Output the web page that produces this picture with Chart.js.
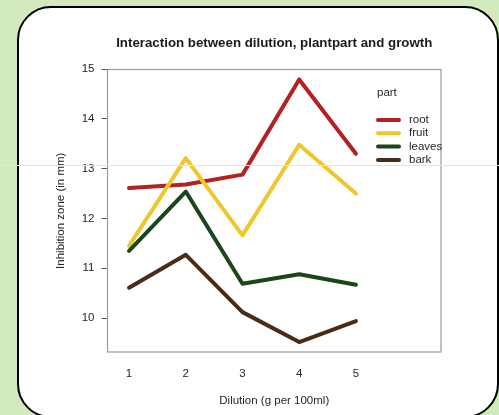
<!DOCTYPE html>
<html>
<head>
<meta charset="utf-8">
<script src="https://cdn.jsdelivr.net/npm/chart.js@4/dist/chart.umd.min.js"></script>
<style>
  html, body { margin: 0; padding: 0; }
  body { width: 499px; height: 415px; background: #d3eabf; position: relative; overflow: hidden; }
  #card { position: absolute; left: 17px; top: 6px; width: 478px; height: 408px;
          background: #fff; border: 2px solid #000; border-radius: 34px; }
  #wrap { position: absolute; left: 0; top: 0; width: 499px; height: 415px; }
  #streak { position: absolute; left: 0; top: 165px; width: 499px; height: 1px; background: #d9efc9; }
</style>
</head>
<body>
<div id="card"></div>
<div id="wrap"><canvas id="chart" width="499" height="415"></canvas></div>
<div id="streak"></div>
<script>
/* Interaction plot: inhibition zone by dilution, one line per plant part */
const DILUTION = [1, 2, 3, 4, 5];
const PARTS    = ['root', 'fruit', 'leaves', 'bark'];
const ROOT     = [12.61, 12.68, 12.88, 14.79, 13.30];
const FRUIT    = [11.45, 13.21, 11.66, 13.48, 12.50];
const LEAVES   = [11.35, 12.54, 10.69, 10.88, 10.67];
const BARK     = [10.61, 11.27, 10.12, 9.52, 9.94];
const Y_TICKS  = [10, 11, 12, 13, 14, 15];
const X_TICKS  = [1, 2, 3, 4, 5];
const TITLE    = 'Interaction between dilution, plantpart and growth';

const COLORS = ['#b22222', '#efc62b', '#1b451b', '#4a2b16'];
const TEXT   = '#262626';
const FONT   = "'Liberation Sans', Arial, sans-serif";

const series = [ROOT, FRUIT, LEAVES, BARK];

// R draws the last level on top, so reverse Chart.js' stacking
const datasets = series.map((vals, i) => ({
  label: PARTS[i],
  data: vals.map((v, j) => ({ x: DILUTION[j], y: v })),
  borderColor: COLORS[i],
  borderWidth: 4,
  borderCapStyle: 'round',
  borderJoinStyle: 'round',
  pointRadius: 0,
  tension: 0,
  fill: false,
  order: series.length - i,
}));

// plot frame, title centred over the plot, and the "part" legend inside it
const framePlugin = {
  id: 'frame',
  afterDraw(chart) {
    const { ctx, chartArea: a } = chart;
    ctx.save();
    ctx.strokeStyle = '#9a9a9a';
    ctx.lineWidth = 1.2;
    ctx.strokeRect(a.left, a.top, a.right - a.left, a.bottom - a.top);

    ctx.font = 'bold 13.3px ' + FONT;
    ctx.fillStyle = '#1a1a1a';
    ctx.textAlign = 'center';
    ctx.textBaseline = 'middle';
    ctx.fillText(TITLE, (a.left + a.right) / 2, 43);

    ctx.font = '11.5px ' + FONT;
    ctx.fillStyle = TEXT;
    ctx.textAlign = 'left';
    ctx.fillText('part', 377, 93);
    const rows = [120, 133.3, 146.6, 160];
    chart.data.datasets.forEach((ds, i) => {
      ctx.strokeStyle = ds.borderColor;
      ctx.lineWidth = 4;
      ctx.lineCap = 'round';
      ctx.beginPath();
      ctx.moveTo(378, rows[i]);
      ctx.lineTo(399, rows[i]);
      ctx.stroke();
      ctx.fillStyle = TEXT;
      ctx.fillText(ds.label, 409, rows[i]);
    });
    ctx.restore();
  },
};

new Chart(document.getElementById('chart'), {
  type: 'line',
  data: { datasets },
  plugins: [framePlugin],
  options: {
    responsive: false,
    animation: false,
    layout: { padding: { left: 0, right: 58, top: 69.5, bottom: 0 } },
    plugins: {
      legend: { display: false },
      tooltip: { enabled: false },
      title: { display: false },
    },
    scales: {
      x: {
        type: 'linear',
        min: 0.62,
        max: 6.5,
        afterBuildTicks: (s) => { s.ticks = X_TICKS.map((v) => ({ value: v })); },
        afterFit: (s) => { s.height = 63; },
        grid: { display: false, drawTicks: false },
        border: { display: false },
        ticks: { color: TEXT, padding: 15, font: { family: FONT, size: 11.5 } },
        title: {
          display: true,
          text: 'Dilution (g per 100ml)',
          color: TEXT,
          font: { family: FONT, size: 11.5 },
          padding: { top: 0, bottom: 7 },
        },
      },
      y: {
        min: 9.32,
        max: 14.99,
        afterBuildTicks: (s) => { s.ticks = Y_TICKS.map((v) => ({ value: v })); },
        afterFit: (s) => { s.width = 107.5; },
        grid: { drawOnChartArea: false, drawTicks: true, tickLength: 6, color: '#555' },
        border: { display: false },
        ticks: { color: TEXT, padding: 7, font: { family: FONT, size: 11.5 } },
        title: {
          display: true,
          text: 'Inhibition zone (in mm)',
          color: TEXT,
          font: { family: FONT, size: 11.5 },
          padding: { top: 54, bottom: 0 },
        },
      },
    },
  },
});
</script>
</body>
</html>
